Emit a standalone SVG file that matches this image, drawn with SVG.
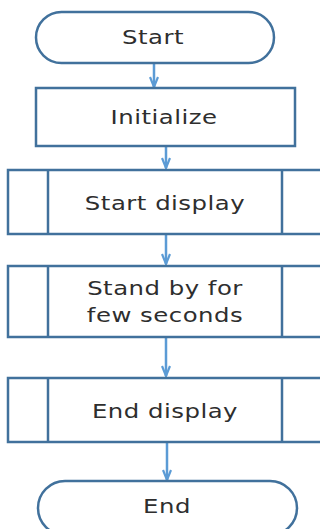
<svg xmlns="http://www.w3.org/2000/svg" width="320" height="529" viewBox="0 0 320 529">
<defs>
<style>
.shape{fill:#ffffff;stroke:#41719c;stroke-width:2.5}
.inner{stroke:#41719c;stroke-width:2.5;fill:none}
.lbl{font-family:"DejaVu Sans","Liberation Sans",sans-serif;font-size:19.5px;fill:#2e2e2e;text-anchor:middle;dominant-baseline:central;letter-spacing:0.4px}
.conn{stroke:#5b9bd5;stroke-width:2.5;fill:none;marker-end:url(#arr)}
</style>
<marker id="arr" viewBox="0 0 12 10" refX="11" refY="5" markerWidth="12" markerHeight="10" markerUnits="userSpaceOnUse" orient="auto">
<path d="M1,1 L11,5 L1,9" fill="none" stroke="#5b9bd5" stroke-width="2.2"/>
</marker>
</defs>
<rect width="320" height="529" fill="#ffffff"/>
<g id="connectors">
<line class="conn" x1="154" y1="64" x2="154" y2="87"/>
<line class="conn" x1="166" y1="147" x2="166" y2="168"/>
<line class="conn" x1="166" y1="235" x2="166" y2="264"/>
<line class="conn" x1="166" y1="338" x2="166" y2="376"/>
<line class="conn" x1="167" y1="443" x2="167" y2="480"/>
</g>
<g id="start">
<rect class="shape" x="36" y="12" width="238" height="51" rx="25.5"/>
<text class="lbl" transform="translate(153 37) scale(1.25 1)">Start</text>
</g>
<g id="initialize">
<rect class="shape" x="36" y="88" width="259" height="58"/>
<text class="lbl" transform="translate(164 117) scale(1.25 1)">Initialize</text>
</g>
<g id="start-display">
<rect class="shape" x="8" y="170" width="316" height="64"/>
<line class="inner" x1="48" y1="170" x2="48" y2="234"/>
<line class="inner" x1="282" y1="170" x2="282" y2="234"/>
<text class="lbl" transform="translate(165 203) scale(1.25 1)">Start display</text>
</g>
<g id="stand-by">
<rect class="shape" x="8" y="266" width="316" height="71"/>
<line class="inner" x1="48" y1="266" x2="48" y2="337"/>
<line class="inner" x1="282" y1="266" x2="282" y2="337"/>
<text class="lbl" transform="translate(165 288) scale(1.25 1)">Stand by for</text>
<text class="lbl" transform="translate(165 315) scale(1.25 1)">few seconds</text>
</g>
<g id="end-display">
<rect class="shape" x="8" y="378" width="316" height="64"/>
<line class="inner" x1="48" y1="378" x2="48" y2="442"/>
<line class="inner" x1="282" y1="378" x2="282" y2="442"/>
<text class="lbl" transform="translate(165 411) scale(1.25 1)">End display</text>
</g>
<g id="end">
<rect class="shape" x="38" y="481" width="259" height="54" rx="27"/>
<text class="lbl" transform="translate(167 506) scale(1.25 1)">End</text>
</g>
</svg>
